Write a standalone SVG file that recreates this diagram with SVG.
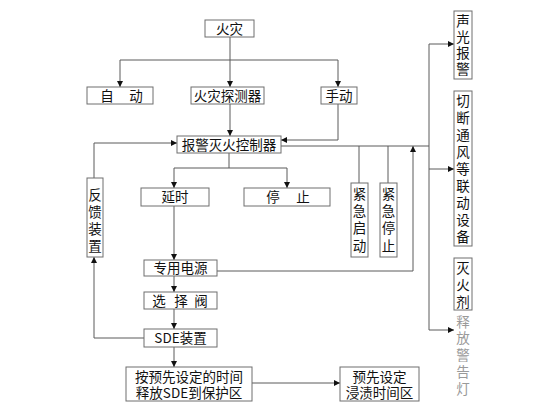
<svg xmlns="http://www.w3.org/2000/svg" width="560" height="420" viewBox="0 0 560 420">
<style>
.b{fill:#fff;stroke:#6e6e6e;stroke-width:1}
.t{font-family:"Noto Sans CJK SC","Liberation Sans",sans-serif;font-size:13.5px;fill:#111;text-anchor:middle}
.g{fill:#9a9a9a}
.c{fill:none;stroke:#5a5a5a;stroke-width:1}
</style>
<defs>
<marker id="a" viewBox="0 0 10 10" refX="10" refY="5" markerWidth="8" markerHeight="6" orient="auto" markerUnits="userSpaceOnUse">
<path d="M0,0 L10,5 L0,10 z" fill="#111"/>
</marker>
</defs>
<rect width="560" height="420" fill="#fff"/>
<g id="connectors">
<path class="c" d="M230,37 V87" marker-end="url(#a)"/>
<path class="c" d="M120,60 H338"/>
<path class="c" d="M120,60 V87" marker-end="url(#a)"/>
<path class="c" d="M338,60 V87" marker-end="url(#a)"/>
<path class="c" d="M230,104 V136" marker-end="url(#a)"/>
<path class="c" d="M338,104 V140 H281" marker-end="url(#a)"/>
<path class="c" d="M94,178 V143 H177" marker-end="url(#a)"/>
<path class="c" d="M229,153 V168"/>
<path class="c" d="M174,168 H287"/>
<path class="c" d="M174,168 V188" marker-end="url(#a)"/>
<path class="c" d="M287,168 V188" marker-end="url(#a)"/>
<path class="c" d="M174,206 V260" marker-end="url(#a)"/>
<path class="c" d="M174,276 V292" marker-end="url(#a)"/>
<path class="c" d="M174,309 V329" marker-end="url(#a)"/>
<path class="c" d="M174,347 V367" marker-end="url(#a)"/>
<path class="c" d="M144,338 H94 V257" marker-end="url(#a)"/>
<path class="c" d="M252,383 H340" marker-end="url(#a)"/>
<path class="c" d="M217,271 H413 V146" marker-end="url(#a)"/>
<path class="c" d="M281,146 H429"/>
<path class="c" d="M359,183 V146"/>
<path class="c" d="M388,183 V146"/>
<path class="c" d="M429,44 V330"/>
<path class="c" d="M429,44 H454" marker-end="url(#a)"/>
<path class="c" d="M429,169 H454" marker-end="url(#a)"/>
<path class="c" d="M429,330 H454" marker-end="url(#a)"/>
</g>
<g id="n-huozai"><rect class="b" x="205" y="20" width="49" height="17"/><text class="t" x="229.5" y="33.5">火灾</text></g>
<g id="n-zidong"><rect class="b" x="87" y="87" width="66" height="17"/><text class="t" x="107" y="101">自</text><text class="t" x="136" y="101">动</text></g>
<g id="n-tanceqi"><rect class="b" x="191" y="87" width="73" height="17"/><text class="t" x="227.5" y="101">火灾探测器</text></g>
<g id="n-shoudong"><rect class="b" x="321" y="87" width="36" height="17"/><text class="t" x="339" y="101">手动</text></g>
<g id="n-kongzhiqi"><rect class="b" x="177" y="136" width="104" height="17"/><text class="t" x="229" y="150">报警灭火控制器</text></g>
<g id="n-yanshi"><rect class="b" x="141" y="188" width="68" height="18"/><text class="t" x="175" y="202">延时</text></g>
<g id="n-tingzhi"><rect class="b" x="244" y="188" width="86" height="18"/><text class="t" x="273" y="202">停</text><text class="t" x="303" y="202">止</text></g>
<g id="n-fankui"><rect class="b" x="87" y="178" width="16" height="79"/>
<text class="t"><tspan x="95" y="200">反</tspan><tspan x="95" y="217">馈</tspan><tspan x="95" y="234">装</tspan><tspan x="95" y="251">置</tspan></text></g>
<g id="n-jjqd"><rect class="b" x="351" y="183" width="17" height="74"/>
<text class="t"><tspan x="359.5" y="199">紧</tspan><tspan x="359.5" y="216">急</tspan><tspan x="359.5" y="233">启</tspan><tspan x="359.5" y="251">动</tspan></text></g>
<g id="n-jjtz"><rect class="b" x="380" y="183" width="17" height="74"/>
<text class="t"><tspan x="388.5" y="199">紧</tspan><tspan x="388.5" y="216">急</tspan><tspan x="388.5" y="233">停</tspan><tspan x="388.5" y="251">止</tspan></text></g>
<g id="n-dianyuan"><rect class="b" x="144" y="260" width="73" height="16"/><text class="t" x="180.5" y="273">专用电源</text></g>
<g id="n-xuanzefa"><rect class="b" x="144" y="292" width="73" height="17"/><text class="t" x="159" y="305.5">选</text><text class="t" x="181" y="305.5">择</text><text class="t" x="201" y="305.5">阀</text></g>
<g id="n-sde"><rect class="b" x="144" y="329" width="73" height="18"/><text class="t" x="180.5" y="343">SDE装置</text></g>
<g id="n-shifang"><rect class="b" x="126" y="367" width="126" height="34"/><text class="t" x="189" y="381.5">按预先设定的时间</text><text class="t" x="189" y="398">释放SDE到保护区</text></g>
<g id="n-jinzi"><rect class="b" x="340" y="367" width="79" height="34"/><text class="t" x="379.5" y="381.5">预先设定</text><text class="t" x="379.5" y="398">浸渍时间区</text></g>
<g id="n-shengguang"><rect class="b" x="454" y="11" width="18" height="68"/>
<text class="t"><tspan x="463" y="26">声</tspan><tspan x="463" y="42">光</tspan><tspan x="463" y="58">报</tspan><tspan x="463" y="74">警</tspan></text></g>
<g id="n-qieduan"><rect class="b" x="454" y="91" width="18" height="155"/>
<text class="t"><tspan x="463" y="106">切</tspan><tspan x="463" y="123">断</tspan><tspan x="463" y="140">通</tspan><tspan x="463" y="157">风</tspan><tspan x="463" y="174">等</tspan><tspan x="463" y="191">联</tspan><tspan x="463" y="208">动</tspan><tspan x="463" y="225">设</tspan><tspan x="463" y="242">备</tspan></text></g>
<g id="n-miehuoji"><rect class="b" x="454" y="258" width="18" height="52"/>
<text class="t"><tspan x="463" y="273">灭</tspan><tspan x="463" y="290">火</tspan><tspan x="463" y="307">剂</tspan></text>
<text class="t g"><tspan x="463" y="327">释</tspan><tspan x="463" y="343">放</tspan><tspan x="463" y="360">警</tspan><tspan x="463" y="377">告</tspan><tspan x="463" y="394">灯</tspan></text></g>
</svg>
